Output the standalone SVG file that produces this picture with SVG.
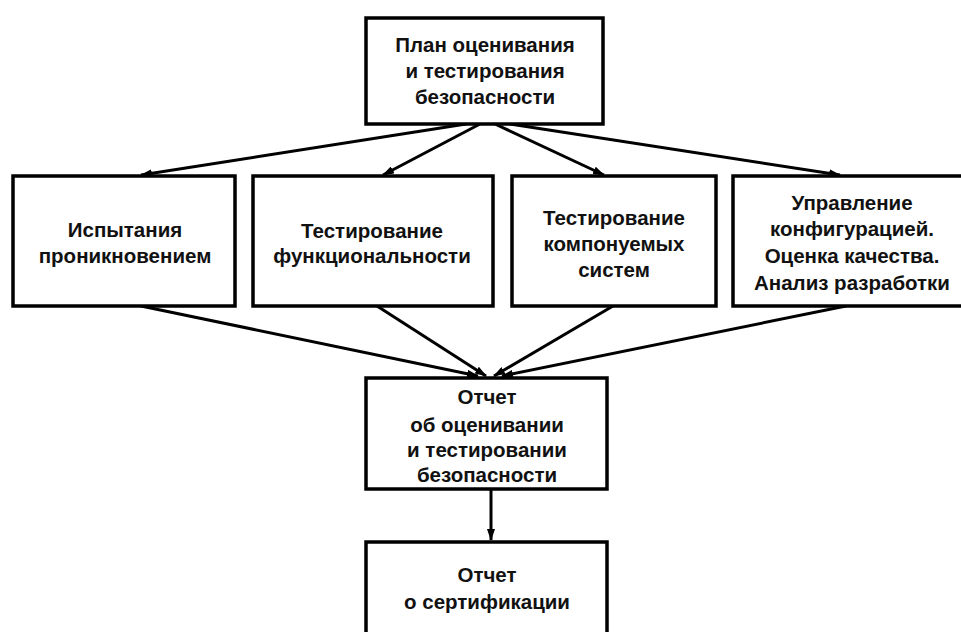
<svg xmlns="http://www.w3.org/2000/svg" width="961" height="632" viewBox="0 0 961 632">
<style>
.box{fill:#fff;stroke:#000;stroke-width:3.5}
.t{font-family:"Liberation Sans",Arial,sans-serif;font-size:20.5px;font-weight:bold;text-anchor:middle;fill:#111}
.c{stroke:#000;stroke-width:3;fill:none;marker-end:url(#ah)}
</style>
<defs>
<marker id="ah" viewBox="0 0 12 8" refX="11" refY="4" markerWidth="12" markerHeight="8" markerUnits="userSpaceOnUse" orient="auto">
<path d="M0,0 L12,4 L0,8 Z" fill="#000"/>
</marker>
</defs>
<rect width="961" height="632" fill="#fff"/>
<g id="connectors">
<line class="c" x1="466" y1="124" x2="141" y2="175"/>
<line class="c" x1="480" y1="124" x2="383" y2="175"/>
<line class="c" x1="495" y1="124" x2="604" y2="175"/>
<line class="c" x1="510" y1="124" x2="840" y2="175"/>
<line class="c" x1="141" y1="306" x2="478" y2="376"/>
<line class="c" x1="377" y1="306" x2="486" y2="376"/>
<line class="c" x1="613" y1="306" x2="494" y2="376"/>
<line class="c" x1="846" y1="306" x2="502" y2="376"/>
<line class="c" x1="491" y1="489" x2="491" y2="540"/>
</g>
<g id="plan">
<rect class="box" x="366" y="18" width="237" height="106"/>
<text class="t" x="485" y="52">План оценивания</text>
<text class="t" x="485" y="78">и тестирования</text>
<text class="t" x="485" y="104">безопасности</text>
</g>
<g id="pentest">
<rect class="box" x="13" y="176" width="222" height="130"/>
<text class="t" x="125" y="237">Испытания</text>
<text class="t" x="125" y="263">проникновением</text>
</g>
<g id="functest">
<rect class="box" x="253" y="176" width="240" height="130"/>
<text class="t" x="372" y="238">Тестирование</text>
<text class="t" x="372" y="263">функциональности</text>
</g>
<g id="comptest">
<rect class="box" x="512" y="176" width="204" height="130"/>
<text class="t" x="614" y="225">Тестирование</text>
<text class="t" x="614" y="251">компонуемых</text>
<text class="t" x="614" y="277">систем</text>
</g>
<g id="config">
<rect class="box" x="733" y="176" width="235" height="130"/>
<text class="t" x="852" y="210">Управление</text>
<text class="t" x="852" y="236">конфигурацией.</text>
<text class="t" x="852" y="263">Оценка качества.</text>
<text class="t" x="852" y="290">Анализ разработки</text>
</g>
<g id="report">
<rect class="box" x="366" y="378" width="241" height="111"/>
<text class="t" x="487" y="404">Отчет</text>
<text class="t" x="487" y="432">об оценивании</text>
<text class="t" x="487" y="457">и тестировании</text>
<text class="t" x="487" y="482">безопасности</text>
</g>
<g id="cert">
<rect class="box" x="366" y="542" width="241" height="100"/>
<text class="t" x="487" y="582">Отчет</text>
<text class="t" x="487" y="609">о сертификации</text>
</g>
</svg>
